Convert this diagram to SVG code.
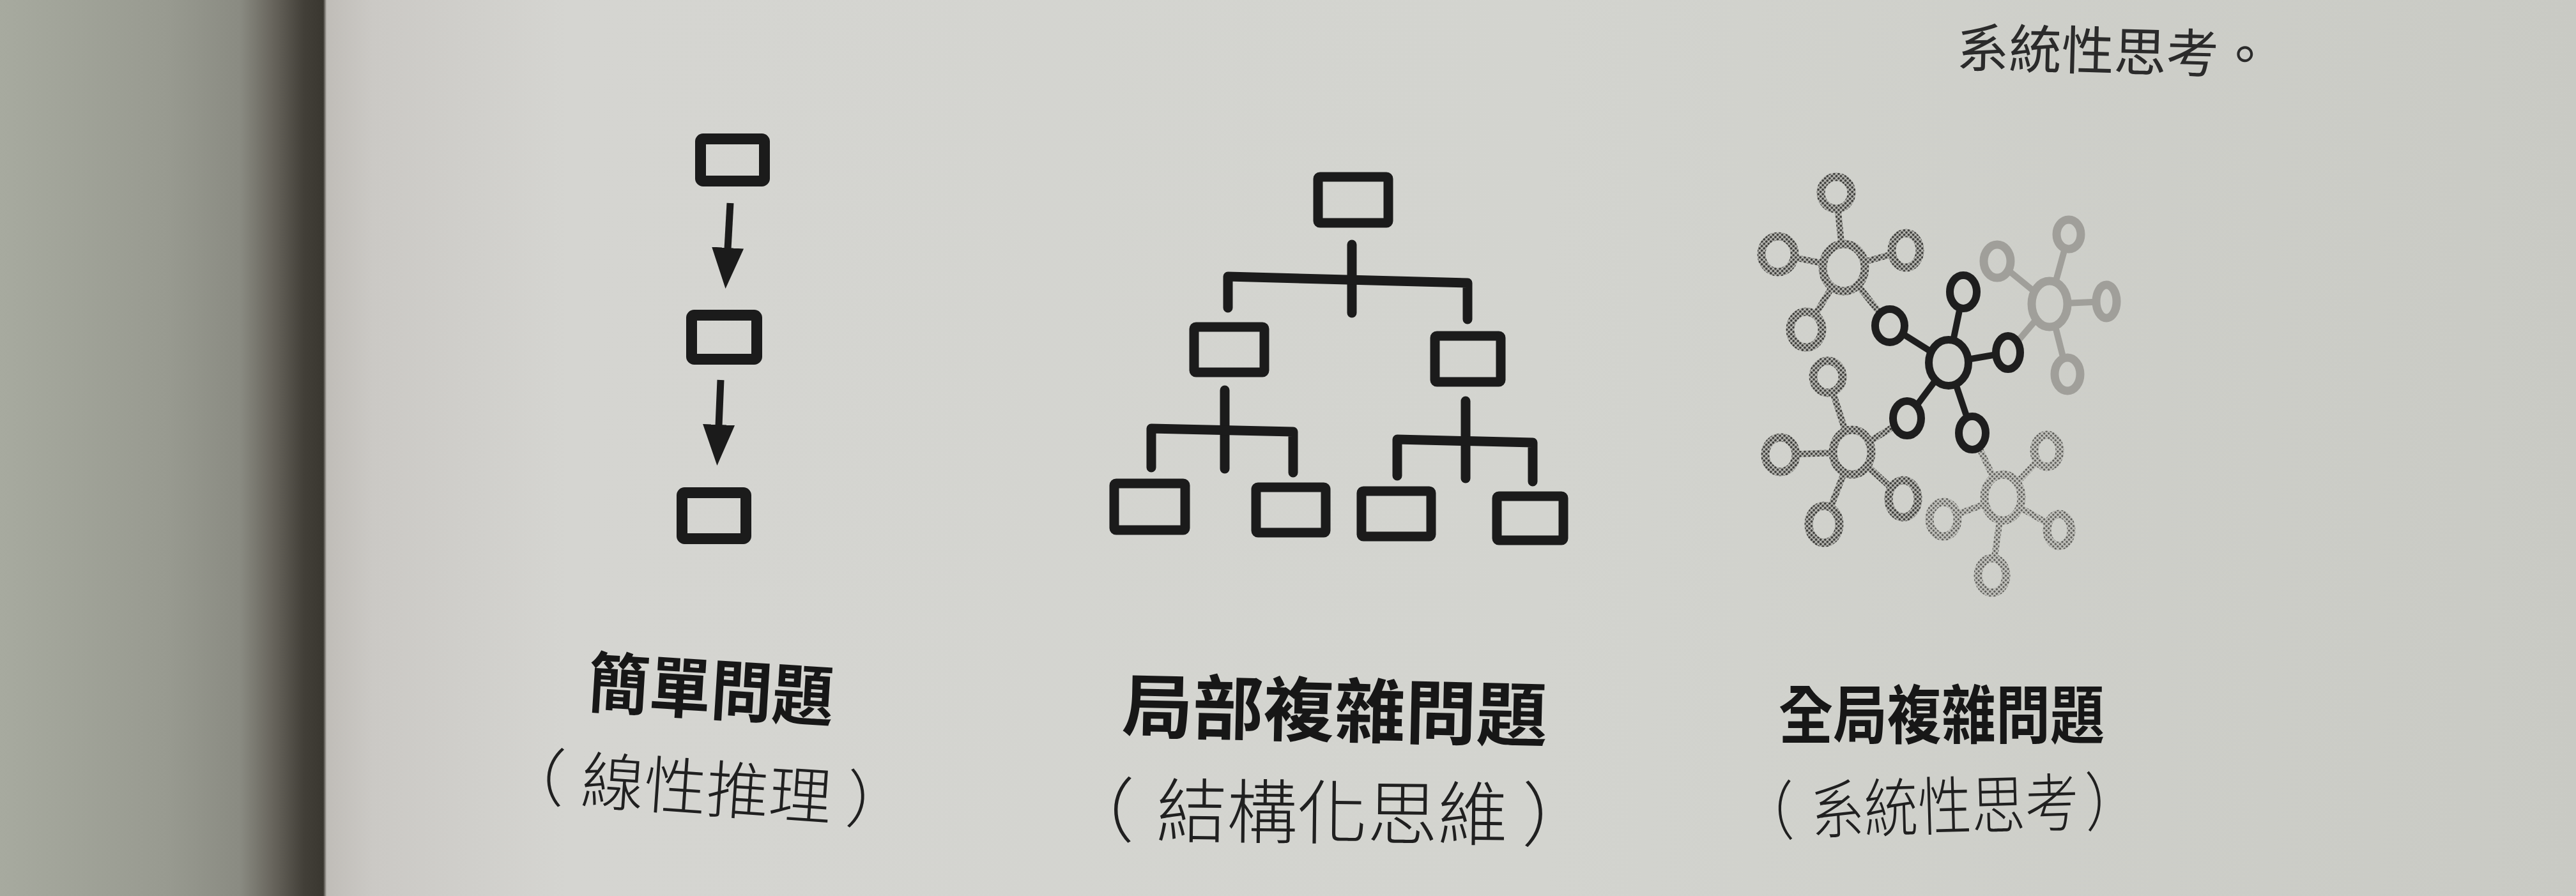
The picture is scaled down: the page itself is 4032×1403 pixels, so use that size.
<svg xmlns="http://www.w3.org/2000/svg" width="4032" height="1403" viewBox="0 0 4032 1403">
<defs>
<linearGradient id="bg" gradientUnits="userSpaceOnUse" x1="0" y1="0" x2="4032" y2="0">
<stop offset="0" stop-color="#a7aa9f"/>
<stop offset="0.065" stop-color="#989a90"/>
<stop offset="0.093" stop-color="#8a8b82"/>
<stop offset="0.105" stop-color="#6a675f"/>
<stop offset="0.118" stop-color="#423f38"/>
<stop offset="0.1255" stop-color="#3a3730"/>
<stop offset="0.1268" stop-color="#c0bdb8"/>
<stop offset="0.145" stop-color="#cbc9c5"/>
<stop offset="0.22" stop-color="#d5d5d1"/>
<stop offset="0.6" stop-color="#d3d4cf"/>
<stop offset="1" stop-color="#c9cac4"/>
</linearGradient>
<pattern id="htA" width="5" height="5" patternUnits="userSpaceOnUse" patternTransform="rotate(45)">
<rect width="5" height="5" fill="#bdbdb8"/><circle cx="2.5" cy="2.5" r="1.9" fill="#3c3c39"/>
</pattern>
<pattern id="htD" width="5" height="5" patternUnits="userSpaceOnUse" patternTransform="rotate(45)">
<rect width="5" height="5" fill="#c2c2bd"/><circle cx="2.5" cy="2.5" r="1.7" fill="#5a5a56"/>
</pattern>
<marker id="ah" markerUnits="userSpaceOnUse" markerWidth="66" markerHeight="52" viewBox="0 0 66 52" refX="2" refY="26" orient="auto">
<path d="M0,1 L64,26 L0,51 Z" fill="#1b1b1b"/>
</marker>
<style>
.b1{fill:none;stroke:#1b1b1b;stroke-width:17;stroke-linejoin:round}
.b2{fill:none;stroke:#1b1b1b;stroke-width:15;stroke-linejoin:round}
.shaft{stroke:#1b1b1b;stroke-width:11;fill:none}
.tree{fill:none;stroke:#1b1b1b;stroke-width:15;stroke-linecap:round;stroke-linejoin:round}
.sd{stroke:#1e1e1e;stroke-width:10}
.rd{fill:url(#bg);stroke:#1e1e1e;stroke-width:12}
.sa{stroke:url(#htA);stroke-width:10}
.ra{fill:url(#bg);stroke:url(#htA);stroke-width:13}
.sdd{stroke:url(#htD);stroke-width:10}
.rdd{fill:url(#bg);stroke:url(#htD);stroke-width:13}
.sc{stroke:#a09f9a;stroke-width:10}
.rc{fill:url(#bg);stroke:#a09f9a;stroke-width:13}
.lbl{font-family:"Noto Sans CJK TC","Noto Sans CJK SC",sans-serif;font-weight:700;fill:#171717;text-anchor:middle}
.sub{font-family:"Noto Sans CJK TC","Noto Sans CJK SC",sans-serif;font-weight:300;fill:#202020}
.body{font-family:"Noto Sans CJK TC","Noto Sans CJK SC",sans-serif;font-weight:400;fill:#2b2b2b}
</style>
</defs>

<g id="background">
<rect x="0" y="0" width="4032" height="1403" fill="url(#bg)"/>
</g>

<g id="page-text">
<text class="body" x="3062" y="104" font-size="82" transform="rotate(1.5 3062 104)">系統性思考。</text>
</g>

<g id="connectors">
<line class="shaft" x1="1143" y1="318" x2="1139" y2="390" marker-end="url(#ah)"/>
<line class="shaft" x1="1128" y1="595" x2="1125" y2="667" marker-end="url(#ah)"/>
<path class="tree" d="M2116,383 L2116,490"/>
<path class="tree" d="M1922,482 L1922,433 L2297,443 L2297,500"/>
<path class="tree" d="M1917,611 L1917,734"/>
<path class="tree" d="M1802,732 L1802,671 L2024,676 L2024,740"/>
<path class="tree" d="M2294,628 L2294,749"/>
<path class="tree" d="M2187,745 L2187,688 L2399,693 L2399,754"/>
<line class="sa" x1="2886" y1="419" x2="2874" y2="302"/>
<line class="sa" x1="2886" y1="419" x2="2783" y2="398"/>
<line class="sa" x1="2886" y1="419" x2="2983" y2="392"/>
<line class="sa" x1="2886" y1="419" x2="2827" y2="516"/>
<line class="sa" x1="2886" y1="419" x2="2958" y2="510"/>
<line class="sa" x1="2899" y1="708" x2="2861" y2="590"/>
<line class="sa" x1="2899" y1="708" x2="2787" y2="712"/>
<line class="sa" x1="2899" y1="708" x2="2979" y2="781"/>
<line class="sa" x1="2899" y1="708" x2="2855" y2="821"/>
<line class="sa" x1="2899" y1="708" x2="2985" y2="655"/>
<line class="sc" x1="3208" y1="476" x2="3238" y2="367"/>
<line class="sc" x1="3208" y1="476" x2="3126" y2="409"/>
<line class="sc" x1="3208" y1="476" x2="3297" y2="472"/>
<line class="sc" x1="3208" y1="476" x2="3236" y2="586"/>
<line class="sc" x1="3208" y1="476" x2="3143" y2="552"/>
<line class="sdd" x1="3135" y1="779" x2="3204" y2="706"/>
<line class="sdd" x1="3135" y1="779" x2="3042" y2="813"/>
<line class="sdd" x1="3135" y1="779" x2="3223" y2="830"/>
<line class="sdd" x1="3135" y1="779" x2="3118" y2="901"/>
<line class="sdd" x1="3135" y1="779" x2="3087" y2="678"/>
<line class="sd" x1="3050" y1="568" x2="3073" y2="457"/>
<line class="sd" x1="3050" y1="568" x2="2958" y2="510"/>
<line class="sd" x1="3050" y1="568" x2="3143" y2="552"/>
<line class="sd" x1="3050" y1="568" x2="2985" y2="655"/>
<line class="sd" x1="3050" y1="568" x2="3087" y2="678"/>
</g>

<g id="lin-1"><rect class="b1" x="1096.5" y="217.5" width="100" height="66" rx="4"/></g>
<g id="lin-2"><rect class="b1" x="1082.5" y="493.5" width="102" height="69" rx="4"/></g>
<g id="lin-3"><rect class="b1" x="1067.5" y="771.5" width="100" height="72" rx="4"/></g>

<g id="tree-root"><rect class="b2" x="2063" y="277" width="110" height="72" rx="3"/></g>
<g id="tree-mid-l"><rect class="b2" x="1869" y="512" width="110" height="71" rx="3"/></g>
<g id="tree-mid-r"><rect class="b2" x="2246" y="526" width="103" height="72" rx="3"/></g>
<g id="tree-leaf-1"><rect class="b2" x="1744" y="757" width="111" height="73" rx="3"/></g>
<g id="tree-leaf-2"><rect class="b2" x="1966" y="763" width="109" height="71" rx="3"/></g>
<g id="tree-leaf-3"><rect class="b2" x="2131" y="769" width="109" height="71" rx="3"/></g>
<g id="tree-leaf-4"><rect class="b2" x="2343" y="777" width="104" height="69" rx="3"/></g>

<g id="net-a">
<ellipse class="ra" cx="2886" cy="419" rx="33" ry="37"/>
<ellipse class="ra" cx="2874" cy="302" rx="24" ry="25"/>
<ellipse class="ra" cx="2783" cy="398" rx="26" ry="28"/>
<ellipse class="ra" cx="2983" cy="392" rx="22" ry="27"/>
<ellipse class="ra" cx="2827" cy="516" rx="25" ry="28"/>
</g>
<g id="net-b">
<ellipse class="ra" cx="2899" cy="708" rx="30" ry="35"/>
<ellipse class="ra" cx="2861" cy="590" rx="23" ry="25"/>
<ellipse class="ra" cx="2787" cy="712" rx="24" ry="27"/>
<ellipse class="ra" cx="2979" cy="781" rx="23" ry="29"/>
<ellipse class="ra" cx="2855" cy="821" rx="24" ry="29"/>
</g>
<g id="net-c">
<ellipse class="rc" cx="3208" cy="476" rx="28" ry="36"/>
<ellipse class="rc" cx="3238" cy="367" rx="19" ry="23"/>
<ellipse class="rc" cx="3126" cy="409" rx="21" ry="26"/>
<ellipse class="rc" cx="3297" cy="472" rx="16" ry="26"/>
<ellipse class="rc" cx="3236" cy="586" rx="20" ry="26"/>
</g>
<g id="net-d">
<ellipse class="rdd" cx="3135" cy="779" rx="29" ry="36"/>
<ellipse class="rdd" cx="3204" cy="706" rx="20" ry="25"/>
<ellipse class="rdd" cx="3042" cy="813" rx="22" ry="27"/>
<ellipse class="rdd" cx="3223" cy="830" rx="19" ry="25"/>
<ellipse class="rdd" cx="3118" cy="901" rx="22" ry="27"/>
</g>
<g id="net-main">
<ellipse class="rd" cx="3050" cy="568" rx="31" ry="36"/>
<ellipse class="rd" cx="3073" cy="457" rx="21" ry="26"/>
<ellipse class="rd" cx="2958" cy="510" rx="23" ry="26"/>
<ellipse class="rd" cx="3143" cy="552" rx="19" ry="26"/>
<ellipse class="rd" cx="2985" cy="655" rx="22" ry="27"/>
<ellipse class="rd" cx="3087" cy="678" rx="21" ry="26"/>
</g>

<g id="label-simple">
<text class="lbl" x="1113" y="1118" font-size="104" textLength="385" lengthAdjust="spacingAndGlyphs" transform="rotate(3.5 1113 1078)">簡單問題</text>
<text class="sub" x="-124" y="0" font-size="98" transform="translate(908 1257) rotate(4)">（<tspan dx="26">線性推理</tspan><tspan dx="23">）</tspan></text>
</g>
<g id="label-local">
<text class="lbl" x="2089" y="1153" font-size="110" textLength="666" lengthAdjust="spacingAndGlyphs" transform="rotate(1.3 2089 1111)">局部複雜問題</text>
<text class="sub" x="-145" y="0" font-size="110" transform="translate(1810 1310) rotate(0.6)">（<tspan dx="35">結構化思維</tspan><tspan dx="22">）</tspan></text>
</g>
<g id="label-global">
<text class="lbl" x="3039" y="1156" font-size="100" textLength="510" lengthAdjust="spacingAndGlyphs">全局複雜問題</text>
<text class="sub" x="-131" y="0" font-size="100" transform="translate(2835 1305) rotate(-1.6) scale(0.84 1)">（<tspan dx="31">系統性思考</tspan><tspan dx="12">）</tspan></text>
</g>
</svg>
